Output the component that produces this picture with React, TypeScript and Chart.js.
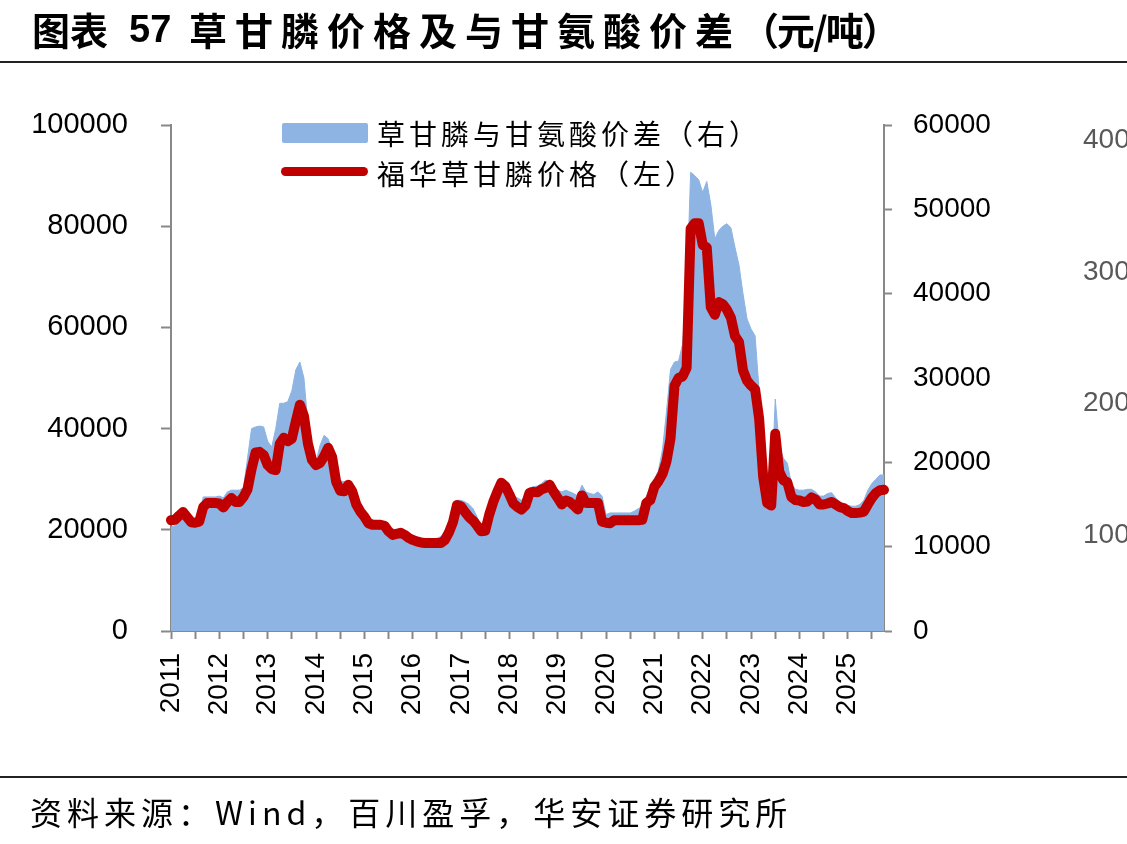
import React, { useEffect, useRef } from "react";
import { Chart, registerables } from "chart.js";
Chart.register(...registerables);

const START_YEAR = 2011;
const MONTH_COUNT = 178; // Jan 2011 .. Oct 2025
const categories: string[] = [];
for (let i = 0; i < MONTH_COUNT; i++) {
  const y = START_YEAR + Math.floor(i / 12);
  const m = (i % 12) + 1;
  categories.push(`${y}-${String(m).padStart(2, "0")}`);
}

// 福华草甘膦价格（左） yuan/ton, monthly
const priceData: number[] = [
  21900, 22000, 22800, 23500, 22500, 21500, 21400, 21600, 24500, 25300, 25300, 25300,
  25200, 24400, 25500, 26300, 25500, 25500, 26500, 28000, 32000, 35300, 35400, 34800,
  32800, 32000, 31800, 37000, 38200, 37500, 38000, 41500, 44700, 42500, 37000, 33800,
  32800, 33200, 34500, 36200, 34400, 29500, 27700, 27600, 28900, 27600, 25000, 23600,
  22600, 21300, 21000, 21000, 21000, 20800, 19700, 19000, 19200, 19400, 19000, 18400,
  18000, 17700, 17500, 17400, 17400, 17400, 17400, 17400, 18000, 19500, 21500, 24900,
  24600, 23500, 22500, 21800, 20800, 19700, 19800, 23000, 25500, 27500, 29300, 28600,
  27000, 25200, 24500, 24000, 24800, 27300, 27500, 27400, 28000, 28300, 28900, 27500,
  26300, 25000, 25800, 25500, 24800, 24000, 26800, 25300, 25300, 25300, 25300, 21600,
  21400, 21300, 21900, 21900, 21900, 21900, 21900, 21900, 21900, 22000, 25300, 25900,
  28500, 29600, 31000, 33500, 38000, 48500, 50000, 50300, 52000, 79500, 80600, 80600,
  76300, 75800, 64000, 62500, 65000, 64600, 63500, 61900, 58300, 57100, 51500, 49500,
  48500, 47800, 42000, 30500, 25300, 24800, 39000, 31500, 29800, 29400, 26500, 25900,
  25800, 25500, 25600, 26400, 26000, 25000, 25000, 25200, 25500, 25000, 24500, 24300,
  23700, 23300, 23300, 23400, 23600, 25000, 26300, 27300, 27800, 27900,
];

// 草甘膦与甘氨酸价差（右） yuan/ton, monthly
const spreadData: number[] = [
  12300, 12500, 13000, 13500, 13000, 12500, 12600, 13500, 15900, 15900, 15900, 15900,
  16000, 15800, 16500, 16700, 16700, 16700, 17000, 20500, 24000, 24200, 24300, 24200,
  22500, 21800, 24000, 27000, 27000, 27200, 28500, 31000, 31900, 30000, 24500, 21000,
  20000, 22000, 23200, 22800, 21500, 18300, 17800, 17700, 17700, 17000, 15000, 14200,
  13800, 13200, 13200, 13000, 12800, 12200, 12000, 12000, 12000, 11800, 11300, 11000,
  11000, 11000, 10900, 10800, 10800, 10900, 11000, 11200, 11700, 12500, 13500, 15500,
  15500, 15300, 15000, 14500, 13500, 12500, 13000, 15000, 16500, 17500, 17900, 17000,
  16500, 16000, 15800, 15500, 16000, 17000, 17100, 17200, 17500, 17900, 17600, 17000,
  16700, 16500, 16700, 16500, 16300, 16000, 17300, 16500, 16300, 16200, 16500, 16000,
  13800, 14000, 14000, 14000, 14000, 14000, 14000, 14200, 14500, 14800, 16000, 17000,
  18000, 19000, 21500, 26000, 31000, 31900, 32000, 34000, 40000, 54400, 54000, 53500,
  52000, 53300, 50600, 46500, 47500, 48000, 48300, 47800, 45500, 43400, 40000, 37000,
  35800, 35000, 28500, 20000, 16000, 15500, 27500, 22000, 20500, 19900, 17500, 16800,
  16700, 16700, 16800, 16800, 16500, 16000, 16000, 16300, 16400, 15800, 15300, 15000,
  14900, 14800, 14800, 15000, 15500, 16700, 17500, 18000, 18500, 18500,
];

const leftTicks = { min: 0, max: 100000, step: 20000 };
const rightTicks = { min: 0, max: 60000, step: 10000 };
const neighborLabels = ["40000", "30000", "20000", "10000"];

const SERIES_SPREAD = "草甘膦与甘氨酸价差（右）";
const SERIES_PRICE = "福华草甘膦价格（左）";
const TITLE_A = "图表";
const TITLE_B = "57";
const TITLE_C = "草甘膦价格及与甘氨酸价差";
const TITLE_D = "（元/吨）";
const SOURCE = "资料来源：Wind，百川盈孚，华安证券研究所";

const BLUE = "#8EB4E3";
const RED = "#C00000";
const AXIS = "#888888";
const CJK = '"Noto Sans CJK SC", "Noto Sans", sans-serif';
const LAT = '"Liberation Sans", Arial, sans-serif';

export default function App() {
  const ref = useRef<HTMLCanvasElement | null>(null);

  useEffect(() => {
    if (!ref.current) return;
    const chart = new Chart(ref.current, {
      type: "line",
      data: {
        labels: categories,
        datasets: [
          {
            label: SERIES_PRICE,
            data: priceData,
            yAxisID: "y",
            borderColor: RED,
            borderWidth: 10,
            borderJoinStyle: "round",
            borderCapStyle: "round",
            pointRadius: 0,
            fill: false,
            tension: 0,
            order: 0,
          },
          {
            label: SERIES_SPREAD,
            data: spreadData,
            yAxisID: "y1",
            borderColor: BLUE,
            backgroundColor: BLUE,
            borderWidth: 1,
            pointRadius: 0,
            fill: "origin",
            tension: 0,
            order: 1,
          },
        ],
      },
      options: {
        responsive: false,
        animation: false,
        devicePixelRatio: 1,
        layout: { padding: { top: 125, left: 0, right: 0, bottom: 0 } },
        plugins: { legend: { display: false }, tooltip: { enabled: false }, title: { display: false } },
        scales: {
          x: {
            type: "category",
            offset: false,
            border: { display: true, color: AXIS, width: 2 },
            grid: {
              display: true,
              drawOnChartArea: false,
              drawTicks: true,
              tickLength: 8,
              tickWidth: 2,
              offset: false,
              tickColor: (ctx: any) => (ctx.index % 6 === 0 ? AXIS : "rgba(0,0,0,0)"),
            },
            ticks: {
              autoSkip: false,
              maxRotation: 90,
              minRotation: 90,
              padding: 14,
              color: "#000",
              font: { family: LAT, size: 28 },
              callback: (_v: any, i: number) => (i % 12 === 0 ? categories[i].slice(0, 4) : ""),
            },
            afterFit: (s: any) => {
              s.height = 213;
            },
          },
          y: {
            position: "left",
            min: leftTicks.min,
            max: leftTicks.max,
            border: { display: true, color: AXIS, width: 2 },
            grid: { drawOnChartArea: false, tickLength: 10, tickWidth: 2, tickColor: AXIS },
            ticks: {
              stepSize: leftTicks.step,
              padding: 33,
              color: "#000",
              font: { family: LAT, size: 29 },
              callback: (v: any) => String(v),
            },
            afterFit: (s: any) => {
              s.width = 171;
            },
          },
          y1: {
            position: "right",
            min: rightTicks.min,
            max: rightTicks.max,
            border: { display: true, color: AXIS, width: 2 },
            grid: { drawOnChartArea: false, tickLength: 8, tickWidth: 2, tickColor: AXIS },
            ticks: {
              stepSize: rightTicks.step,
              padding: 21,
              color: "#000",
              font: { family: LAT, size: 28 },
              callback: (v: any) => String(v),
            },
            afterFit: (s: any) => {
              s.width = 243;
            },
          },
        },
      },
    });
    return () => chart.destroy();
  }, []);

  const neighborTops = [122, 254, 385, 517];

  return (
    <div
      style={{
        position: "absolute",
        left: 0,
        top: 0,
        width: 1127,
        height: 844,
        overflow: "hidden",
        background: "#fff",
      }}
    >
      <canvas ref={ref} width={1127} height={844} style={{ position: "absolute", left: 0, top: 0, display: "block" }} />

      {/* title */}
      <div style={{ position: "absolute", left: 32, top: 6, fontFamily: CJK, fontWeight: 700, fontSize: 38, lineHeight: "46px", whiteSpace: "nowrap", color: "#000" }}>
        {TITLE_A}
      </div>
      <div style={{ position: "absolute", left: 129, top: 6, fontFamily: LAT, fontWeight: 700, fontSize: 38, lineHeight: "46px", whiteSpace: "nowrap", color: "#000" }}>
        {TITLE_B}
      </div>
      <div style={{ position: "absolute", left: 189, top: 6, fontFamily: CJK, fontWeight: 700, fontSize: 38, lineHeight: "46px", letterSpacing: 8, whiteSpace: "nowrap", color: "#000" }}>
        {TITLE_C}
        <span style={{ letterSpacing: -2 }}>{TITLE_D}</span>
      </div>
      <div style={{ position: "absolute", left: 0, top: 61, width: 1127, height: 2, background: "#222" }} />

      {/* legend */}
      <div style={{ position: "absolute", left: 282, top: 123, width: 86, height: 20, background: BLUE, borderRadius: 2 }} />
      <div style={{ position: "absolute", left: 377, top: 114, fontFamily: CJK, fontSize: 28, lineHeight: "38px", letterSpacing: 4, whiteSpace: "nowrap", color: "#000" }}>
        {SERIES_SPREAD}
      </div>
      <div style={{ position: "absolute", left: 281, top: 167, width: 87, height: 9, background: RED, borderRadius: 5 }} />
      <div style={{ position: "absolute", left: 377, top: 154, fontFamily: CJK, fontSize: 28, lineHeight: "38px", letterSpacing: 4, whiteSpace: "nowrap", color: "#000" }}>
        {SERIES_PRICE}
      </div>

      {/* neighbouring chart's axis labels, cut at the edge */}
      {neighborLabels.map((t, i) => (
        <div key={t} style={{ position: "absolute", left: 1083, top: neighborTops[i], fontFamily: LAT, fontSize: 28, lineHeight: "34px", color: "#595959", whiteSpace: "nowrap" }}>
          {t}
        </div>
      ))}

      {/* source */}
      <div style={{ position: "absolute", left: 0, top: 776, width: 1127, height: 2, background: "#222" }} />
      <div style={{ position: "absolute", left: 30, top: 790, fontFamily: CJK, fontSize: 32, lineHeight: "42px", letterSpacing: 5, whiteSpace: "nowrap", color: "#000" }}>
        {SOURCE}
      </div>
    </div>
  );
}
